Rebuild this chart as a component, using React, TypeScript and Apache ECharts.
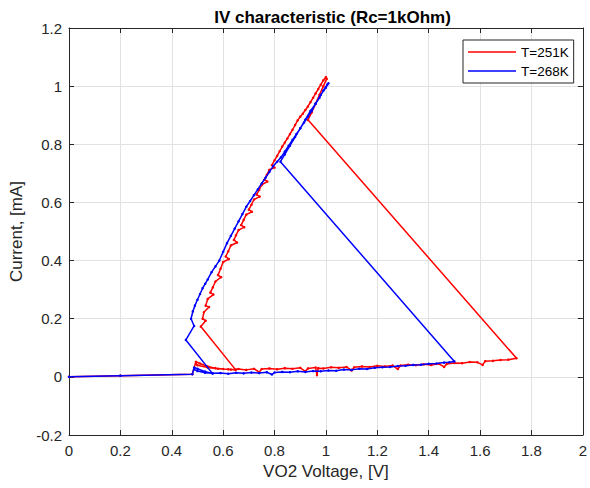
import React, { useEffect, useRef } from "react";
import * as echarts from "echarts";

const TITLE = "IV characteristic (Rc=1kOhm)";
const X_NAME = "VO2 Voltage, [V]";
const Y_NAME = "Current, [mA]";
const SERIES_NAMES = ["T=251K", "T=268K"];

// T=251K (red)
const redStart: number[][] = [
  [0, 0], [0.2, 0.004], [0.48, 0.009], [0.494, 0.052], [0.51, 0.046], [0.54, 0.036],
];
const redLowForward: number[][] = [
  [0.57, 0.03], [0.6, 0.027], [0.63, 0.025], [0.66, 0.027], [0.69, 0.024], [0.72, 0.028],
  [0.74, 0.016], [0.75, 0.027], [0.78, 0.029], [0.81, 0.026], [0.84, 0.03], [0.87, 0.028],
  [0.9, 0.031], [0.92, 0.019], [0.93, 0.029], [0.96, 0.032], [0.965, 0.006], [0.97, 0.03],
  [0.99, 0.029], [1.02, 0.033], [1.05, 0.031], [1.08, 0.034], [1.1, 0.022], [1.11, 0.033],
  [1.14, 0.036], [1.17, 0.034], [1.2, 0.038], [1.23, 0.036], [1.26, 0.039], [1.28, 0.027],
  [1.29, 0.039], [1.32, 0.042], [1.35, 0.04], [1.38, 0.043], [1.41, 0.041], [1.44, 0.045],
  [1.46, 0.034], [1.47, 0.044], [1.5, 0.048], [1.53, 0.047], [1.56, 0.051], [1.59, 0.05],
  [1.61, 0.041], [1.62, 0.054], [1.65, 0.055], [1.68, 0.058], [1.71, 0.059], [1.742, 0.064],
];
const redMetalUp: number[][] = [
  [0.93, 0.884], [0.945, 0.91], [0.96, 0.94], [0.975, 0.97], [0.99, 1.0], [1.003, 1.025], [1.0, 1.031],
];
const redMetalDown: number[][] = [
  [0.99, 1.02], [0.98, 1.005], [0.97, 0.99], [0.96, 0.975], [0.95, 0.96], [0.94, 0.945],
  [0.93, 0.93], [0.92, 0.918], [0.91, 0.905], [0.9, 0.895], [0.89, 0.882], [0.88, 0.866],
  [0.87, 0.85], [0.86, 0.835], [0.85, 0.82], [0.84, 0.806], [0.83, 0.792], [0.82, 0.776],
  [0.81, 0.76], [0.8, 0.745], [0.79, 0.728], [0.8, 0.72], [0.78, 0.712], [0.77, 0.695],
  [0.76, 0.678], [0.772, 0.672], [0.75, 0.66], [0.74, 0.643], [0.73, 0.627], [0.742, 0.62],
  [0.72, 0.61], [0.71, 0.592], [0.7, 0.575], [0.712, 0.568], [0.69, 0.558], [0.68, 0.54],
  [0.67, 0.522], [0.682, 0.515], [0.66, 0.505], [0.65, 0.487], [0.642, 0.471], [0.654, 0.462],
  [0.63, 0.452], [0.62, 0.432], [0.61, 0.414], [0.622, 0.405], [0.6, 0.395], [0.59, 0.372],
  [0.58, 0.35], [0.592, 0.343], [0.57, 0.328], [0.56, 0.308], [0.55, 0.29], [0.562, 0.283],
  [0.54, 0.268], [0.532, 0.245], [0.545, 0.24], [0.525, 0.222], [0.52, 0.2], [0.532, 0.193],
  [0.513, 0.173],
];
const redLowReturn: number[][] = [
  [0.649, 0.024], [0.62, 0.026], [0.58, 0.028], [0.54, 0.032], [0.5, 0.04], [0.494, 0.045],
];

// T=268K (blue)
const blueStart: number[][] = [
  [0, 0], [0.2, 0.004], [0.48, 0.009], [0.487, 0.032], [0.5, 0.028], [0.53, 0.018],
];
const blueLowForward: number[][] = [
  [0.56, 0.012], [0.59, 0.013], [0.62, 0.011], [0.65, 0.014], [0.68, 0.012], [0.71, 0.015],
  [0.74, 0.013], [0.77, 0.016], [0.79, 0.008], [0.8, 0.015], [0.83, 0.017], [0.86, 0.016],
  [0.89, 0.019], [0.92, 0.017], [0.95, 0.02], [0.98, 0.019], [1.01, 0.022], [1.04, 0.021],
  [1.07, 0.025], [1.1, 0.024], [1.13, 0.028], [1.16, 0.027], [1.19, 0.031], [1.22, 0.033],
  [1.25, 0.034], [1.28, 0.037], [1.31, 0.038], [1.34, 0.041], [1.37, 0.042], [1.4, 0.045],
  [1.43, 0.046], [1.46, 0.049], [1.48, 0.05], [1.5, 0.053],
];
const blueMetalUp: number[][] = [
  [0.823, 0.74], [0.84, 0.765], [0.86, 0.795], [0.88, 0.825], [0.9, 0.855], [0.92, 0.885],
  [0.94, 0.915], [0.96, 0.94], [0.98, 0.97], [1.0, 0.995], [1.01, 1.01],
];
const blueMetalDown: number[][] = [
  [1.005, 1.005], [0.99, 0.985], [0.975, 0.96], [0.96, 0.94], [0.945, 0.915], [0.93, 0.895],
  [0.915, 0.875], [0.9, 0.855], [0.885, 0.835], [0.87, 0.815], [0.855, 0.795], [0.84, 0.775],
  [0.825, 0.755], [0.81, 0.74], [0.795, 0.725], [0.78, 0.705], [0.765, 0.685], [0.75, 0.665],
  [0.735, 0.645], [0.72, 0.625], [0.705, 0.605], [0.69, 0.585], [0.675, 0.56], [0.66, 0.535],
  [0.645, 0.51], [0.63, 0.485], [0.615, 0.46], [0.6, 0.43], [0.585, 0.4], [0.57, 0.38],
  [0.555, 0.36], [0.54, 0.335], [0.53, 0.32], [0.52, 0.305], [0.51, 0.285], [0.5, 0.265],
  [0.49, 0.245], [0.482, 0.225], [0.475, 0.2], [0.487, 0.175], [0.455, 0.127],
];
const blueLowReturn: number[][] = [
  [0.558, 0.012], [0.53, 0.014], [0.5, 0.02], [0.487, 0.026],
];

const X_MIN = 0, X_MAX = 2, X_STEP = 0.2;
const Y_MIN = -0.2, Y_MAX = 1.2, Y_STEP = 0.2;

const redData = [...redStart, ...redLowForward, ...redMetalUp, ...redMetalDown, ...redLowReturn];
const blueData = [...blueStart, ...blueLowForward, ...blueMetalUp, ...blueMetalDown, ...blueLowReturn];

const FONT = "'Liberation Sans', Arial, Helvetica, sans-serif";
const AX = "#262626";
const GRID = "#e2e2e2";

export default function App() {
  const ref = useRef<HTMLDivElement>(null);
  useEffect(() => {
    if (!ref.current) return;
    const chart = echarts.init(ref.current, undefined, { renderer: "svg" });
    const baseX = {
      type: "value" as const,
      min: X_MIN, max: X_MAX, interval: X_STEP,
      axisLine: { show: true, onZero: false, lineStyle: { color: AX, width: 1 } },
      axisTick: { show: true, inside: true, length: 5, lineStyle: { color: AX } },
    };
    const baseY = {
      type: "value" as const,
      min: Y_MIN, max: Y_MAX, interval: Y_STEP,
      axisLine: { show: true, onZero: false, lineStyle: { color: AX, width: 1 } },
      axisTick: { show: true, inside: true, length: 5, lineStyle: { color: AX } },
    };
    const lineSeries = (name: string, data: number[][], color: string, z: number) => ({
      name, type: "line", data,
      showSymbol: true, showAllSymbol: true, symbol: "circle", symbolSize: 2.5,
      color, itemStyle: { color },
      lineStyle: { color, width: 1.5 }, z,
    });
    chart.setOption({
      animation: false,
      backgroundColor: "#ffffff",
      textStyle: { fontFamily: FONT },
      title: {
        text: TITLE, left: 327.5, top: 4, textAlign: "center",
        textStyle: { fontFamily: FONT, fontSize: 17, fontWeight: "bold", color: "#000" },
      },
      grid: { left: 69, right: 4, top: 28, bottom: 53, containLabel: false },
      legend: {
        orient: "vertical", left: 463, top: 40,
        data: SERIES_NAMES,
        icon: "rect", itemWidth: 48, itemHeight: 1.5, itemGap: 5,
        padding: [5, 5, 5, 5],
        borderColor: AX, borderWidth: 1, backgroundColor: "#fff",
        textStyle: { fontFamily: FONT, fontSize: 13.5, color: "#000" },
      },
      xAxis: [
        {
          ...baseX, position: "bottom",
          name: X_NAME, nameLocation: "middle", nameGap: 28,
          nameTextStyle: { fontFamily: FONT, fontSize: 17, color: AX },
          axisLabel: { color: AX, fontSize: 15, margin: 8, fontFamily: FONT },
          splitLine: { show: true, lineStyle: { color: GRID, width: 1 } },
        },
        { ...baseX, position: "top", axisLabel: { show: false }, splitLine: { show: false } },
      ],
      yAxis: [
        {
          ...baseY, position: "left",
          name: Y_NAME, nameLocation: "middle", nameGap: 40,
          nameTextStyle: { fontFamily: FONT, fontSize: 17, color: AX },
          axisLabel: { color: AX, fontSize: 15, margin: 7, fontFamily: FONT },
          splitLine: { show: true, lineStyle: { color: GRID, width: 1 } },
        },
        { ...baseY, position: "right", axisLabel: { show: false }, splitLine: { show: false } },
      ],
      series: [
        lineSeries(SERIES_NAMES[0], redData, "#ff0000", 3),
        lineSeries(SERIES_NAMES[1], blueData, "#0000ff", 4),
      ],
    });
    return () => chart.dispose();
  }, []);
  return <div ref={ref} style={{ width: 590, height: 488, position: "absolute", left: 0, top: 0 }} />;
}
